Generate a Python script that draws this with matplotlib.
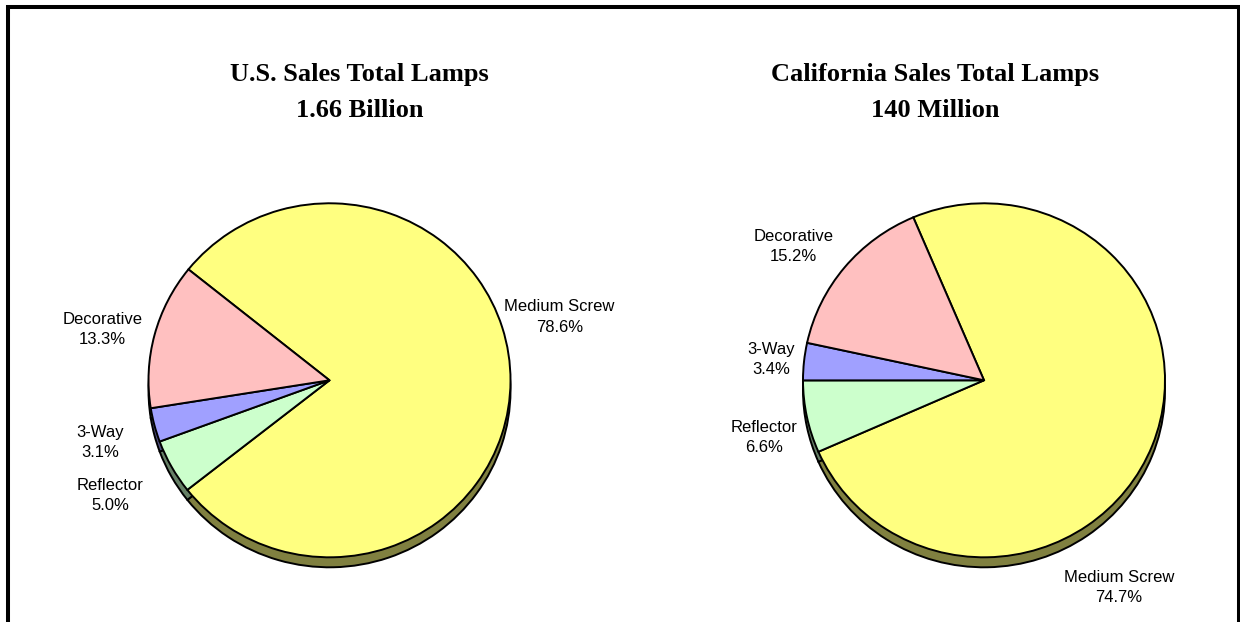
import matplotlib
matplotlib.use("Agg")
import matplotlib.pyplot as plt
from matplotlib.patches import Rectangle

# ---- data ----
categories = ["Medium Screw", "Reflector", "3-Way", "Decorative"]
us_share = [78.6, 5.0, 3.1, 13.3]
ca_share = [74.7, 6.6, 3.4, 15.2]
titles = [("U.S. Sales Total Lamps", "1.66 Billion"),
          ("California Sales Total Lamps", "140 Million")]

# ---- styling ----
top_colors = ["#FFFF80", "#CCFFCC", "#A0A0FF", "#FFC0C0"]
side_colors = ["#808040", "#668066", "#505080", "#806060"]

W, H = 1240, 622
fig = plt.figure(figsize=(W / 100, H / 100), dpi=100)
fig.patch.set_facecolor("white")


def fx(x):
    return x / W


def fy(y):
    return 1 - y / H


RX, RY = 181.0, 177.0     # horizontal / vertical radius of the pie face (px)
DEPTH = 10.0              # thickness of the pie rim (px)
BOX = 215.0               # half size of each pie axes (px)


def draw_pie(cx, cy, shares, start):
    ax = fig.add_axes([fx(cx - BOX), fy(cy + BOX), 2 * BOX / W, 2 * BOX / H])
    edge = dict(edgecolor="black", linewidth=1.4)
    # rim of the pie, shifted downwards
    ax.pie(shares, colors=side_colors, startangle=start, counterclock=False,
           center=(0, -DEPTH / RY), radius=1, wedgeprops=edge)
    # top face
    ax.pie(shares, colors=top_colors, startangle=start, counterclock=False,
           center=(0, 0), radius=1, wedgeprops=edge)
    ax.set_aspect("auto")
    ax.set_xlim(-BOX / RX, BOX / RX)
    ax.set_ylim(-BOX / RY, BOX / RY)
    ax.axis("off")
    return ax


draw_pie(329.5, 380.3, us_share, 141.2)
draw_pie(984.0, 380.3, ca_share, 113.0)

# ---- titles ----
title_x = [359.5, 935.0]
for (l1, l2), tx in zip(titles, title_x):
    fig.text(fx(tx), fy(81), l1, ha="center", va="baseline",
             fontsize=19, fontweight="bold", family="Liberation Serif")
    fig.text(fx(tx), fy(117), l2, ha="center", va="baseline",
             fontsize=19, fontweight="bold", family="Liberation Serif")

# ---- slice labels (first-line baseline positions, px) ----
LINE_GAP = 20.7
us_label_pos = {"Medium Screw": (559.5, 311), "Reflector": (110, 489.3),
                "3-Way": (100.5, 436.7), "Decorative": (102.7, 323.3)}
ca_label_pos = {"Medium Screw": (1118.8, 581.7), "Reflector": (764.3, 431.7),
                "3-Way": (771, 353.3), "Decorative": (793.3, 240.7)}

for shares, pos in ((us_share, us_label_pos), (ca_share, ca_label_pos)):
    for name, val in zip(categories, shares):
        x, y = pos[name]
        # baseline alignment of multi-line text refers to the last line
        fig.text(fx(x), fy(y + LINE_GAP), f"{name}\n{val:.1f}%", ha="center",
                 va="baseline", multialignment="center", fontsize=12,
                 family="Liberation Sans", color="black", linespacing=1.44)

# ---- outer frame (open at the bottom edge) ----
frame = Rectangle((fx(8), fy(640)), fx(1239) - fx(8), fy(7) - fy(640),
                  transform=fig.transFigure, fill=False, edgecolor="black",
                  linewidth=2.9, clip_on=False)
fig.patches.append(frame)

fig.savefig("out.png", dpi=100)
